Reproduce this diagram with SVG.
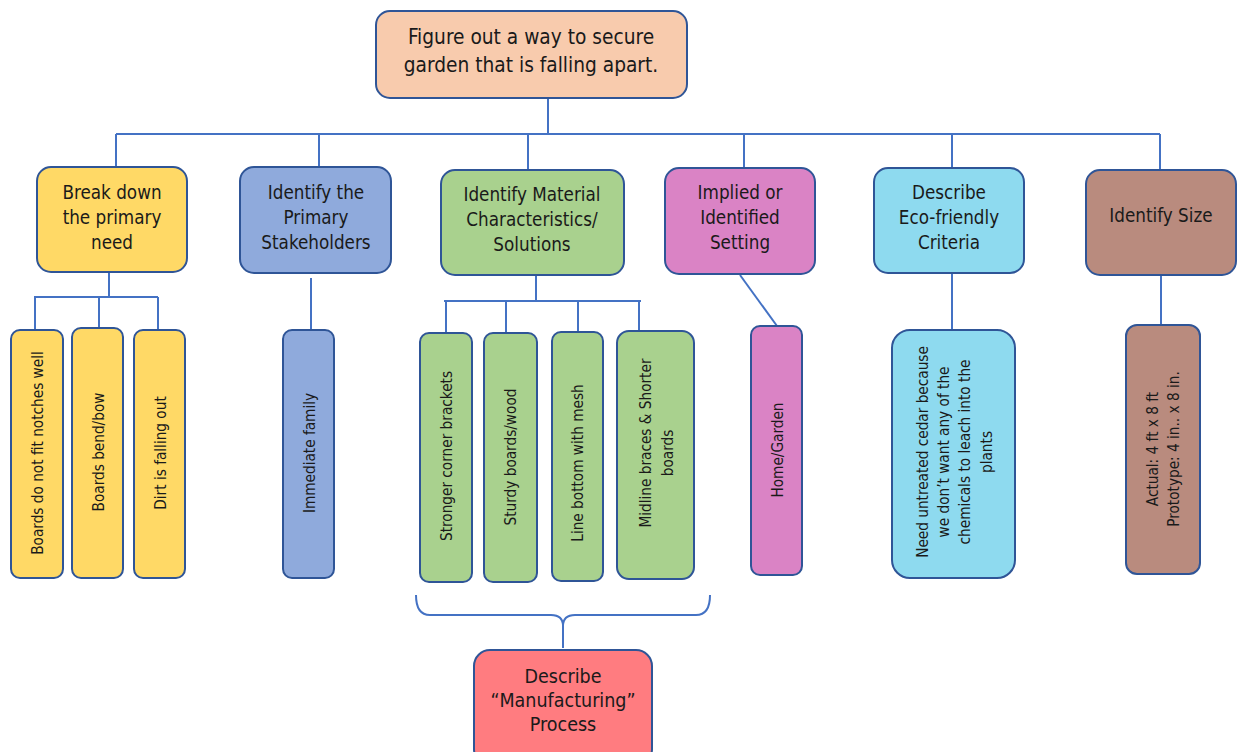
<svg xmlns="http://www.w3.org/2000/svg" width="1238" height="752" viewBox="0 0 1238 752">
<style>
.box{stroke:#2F5597;stroke-width:2}
.t{font-family:"DejaVu Sans Condensed","DejaVu Sans",sans-serif;fill:#1a1a1a;text-anchor:middle}
.h{font-size:18.7px}
.r{font-size:20.7px}
.m{font-size:19.5px}
.s{font-size:15.2px}
.c{fill:none;stroke:#4472C4;stroke-width:2}
</style>
<rect width="1238" height="752" fill="#fff"/>
<g id="connectors">
<path class="c" d="M548,98V134M116,134H1160M116,134V167M319,134V167M528,134V170M744,134V168M952,134V168M1160,134V170"/>
<path class="c" d="M109,272V297M34,297H158M35,297V330M99,297V328M158,297V330"/>
<path class="c" d="M311,278V330"/>
<path class="c" d="M536,275V301M444,301H641M446,301V333M506,301V333M578,301V332M639,301V331"/>
<path class="c" d="M740,275L777,326"/>
<path class="c" d="M952,273V330"/>
<path class="c" d="M1161,275V325"/>
<path class="c" d="M416,595Q416,615 430,615H551Q563,615 563,626Q563,615 575,615H696Q710,615 710,595M563,626V648"/>
</g>
<g id="root"><rect class="box" x="376" y="11" width="311" height="87" rx="14" fill="#F8CBAD"/>
<text class="t r" x="531" y="44">Figure out a way to secure</text><text class="t r" x="531" y="72">garden that is falling apart.</text></g>
<g id="need"><rect class="box" x="37" y="167" width="150" height="105" rx="14" fill="#FFD966"/>
<text class="t h" x="112" y="199">Break down</text><text class="t h" x="112" y="224">the primary</text><text class="t h" x="112" y="249">need</text></g>
<g id="stake"><rect class="box" x="240" y="167" width="151" height="106" rx="14" fill="#8FAADC"/>
<text class="t h" x="316" y="199">Identify the</text><text class="t h" x="316" y="224">Primary</text><text class="t h" x="316" y="249">Stakeholders</text></g>
<g id="material"><rect class="box" x="441" y="170" width="183" height="105" rx="14" fill="#A9D18E"/>
<text class="t h" x="532" y="201">Identify Material</text><text class="t h" x="532" y="226">Characteristics/</text><text class="t h" x="532" y="251">Solutions</text></g>
<g id="setting"><rect class="box" x="665" y="168" width="150" height="106" rx="14" fill="#DA83C5"/>
<text class="t h" x="740" y="199">Implied or</text><text class="t h" x="740" y="224">Identified</text><text class="t h" x="740" y="249">Setting</text></g>
<g id="eco"><rect class="box" x="874" y="168" width="150" height="105" rx="14" fill="#8EDAEF"/>
<text class="t h" x="949" y="199">Describe</text><text class="t h" x="949" y="224">Eco-friendly</text><text class="t h" x="949" y="249">Criteria</text></g>
<g id="size"><rect class="box" x="1086" y="170" width="150" height="105" rx="14" fill="#B98B7E"/>
<text class="t h" x="1161" y="222">Identify Size</text></g>
<g id="leaf1"><rect class="box" x="11" y="330" width="52" height="248" rx="9" fill="#FFD966"/>
<text class="t s" transform="translate(38,453) rotate(-90)" dy="5">Boards do not fit notches well</text></g>
<g id="leaf2"><rect class="box" x="72" y="328" width="51" height="250" rx="9" fill="#FFD966"/>
<text class="t s" transform="translate(99,452) rotate(-90)" dy="5">Boards bend/bow</text></g>
<g id="leaf3"><rect class="box" x="134" y="330" width="51" height="248" rx="9" fill="#FFD966"/>
<text class="t s" transform="translate(161,453) rotate(-90)" dy="5">Dirt is falling out</text></g>
<g id="leaf4"><rect class="box" x="283" y="330" width="51" height="248" rx="9" fill="#8FAADC"/>
<text class="t s" transform="translate(310,453) rotate(-90)" dy="5">Immediate family</text></g>
<g id="leaf5"><rect class="box" x="420" y="333" width="52" height="249" rx="9" fill="#A9D18E"/>
<text class="t s" transform="translate(447,456) rotate(-90)" dy="5">Stronger corner brackets</text></g>
<g id="leaf6"><rect class="box" x="484" y="333" width="53" height="249" rx="9" fill="#A9D18E"/>
<text class="t s" transform="translate(511,457) rotate(-90)" dy="5">Sturdy boards/wood</text></g>
<g id="leaf7"><rect class="box" x="552" y="332" width="51" height="249" rx="9" fill="#A9D18E"/>
<text class="t s" transform="translate(578,463) rotate(-90)" dy="5">Line bottom with mesh</text></g>
<g id="leaf8"><rect class="box" x="617" y="331" width="77" height="248" rx="12" fill="#A9D18E"/>
<text class="t s" transform="translate(646,443) rotate(-90)" dy="5">Midline braces &amp; Shorter</text>
<text class="t s" transform="translate(668,453) rotate(-90)" dy="5">boards</text></g>
<g id="leaf9"><rect class="box" x="751" y="326" width="51" height="249" rx="9" fill="#DA83C5"/>
<text class="t s" transform="translate(778,450) rotate(-90)" dy="5">Home/Garden</text></g>
<g id="leaf10"><rect class="box" x="892" y="330" width="123" height="248" rx="18" fill="#8EDAEF"/>
<text class="t s" transform="translate(923,452) rotate(-90)" dy="5">Need untreated cedar because</text>
<text class="t s" transform="translate(944,452) rotate(-90)" dy="5">we don’t want any of the</text>
<text class="t s" transform="translate(965,452) rotate(-90)" dy="5">chemicals to leach into the</text>
<text class="t s" transform="translate(987,452) rotate(-90)" dy="5">plants</text></g>
<g id="leaf11"><rect class="box" x="1126" y="325" width="74" height="249" rx="11" fill="#B98B7E"/>
<text class="t s" transform="translate(1153,449) rotate(-90)" dy="5">Actual: 4 ft x 8 ft</text>
<text class="t s" transform="translate(1174,449) rotate(-90)" dy="5">Prototype: 4 in.. x 8 in.</text></g>
<g id="manufacturing"><rect class="box" x="474" y="650" width="178" height="115" rx="16" fill="#FF7C80"/>
<text class="t m" x="563" y="683">Describe</text><text class="t m" x="563" y="707">“Manufacturing”</text><text class="t m" x="563" y="731">Process</text></g>
</svg>
